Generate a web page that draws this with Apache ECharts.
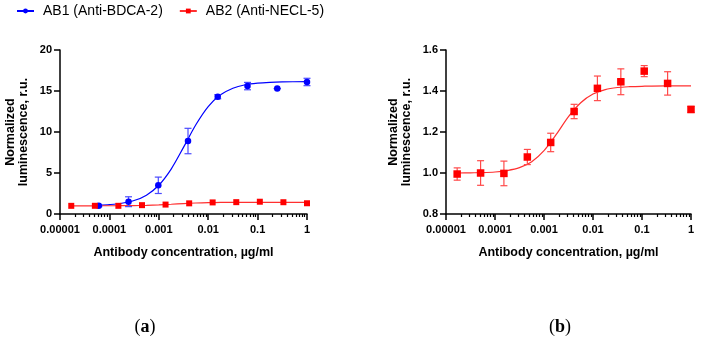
<!DOCTYPE html>
<html>
<head>
<meta charset="utf-8">
<script src="https://cdn.jsdelivr.net/npm/echarts@6/dist/echarts.min.js"></script>
<style>html,body{margin:0;padding:0;background:#fff}#c{width:701px;height:341px}</style>
</head>
<body>
<div id="c"></div>
<script>
// ---- data ----
const nameAB1 = 'AB1 (Anti-BDCA-2)';
const nameAB2 = 'AB2 (Anti-NECL-5)';
// AB1: 4-fold dilutions (µg/ml)
const ab1Conc = [0.000061, 0.000244, 0.000977, 0.0039, 0.0156, 0.0625, 0.25, 1];
const ab1Mean = [1.0, 1.5, 3.5, 8.9, 14.3, 15.6, 15.3, 16.1];
const ab1Err  = [0.1, 0.6, 1.0, 1.55, 0.25, 0.45, 0, 0.45];
// AB2: 3-fold dilutions (µg/ml)
const ab2Conc = [0.0000169, 0.0000508, 0.000152, 0.000457, 0.00137, 0.00412, 0.0123, 0.037, 0.111, 0.333, 1];
const ab2Mean = [0.995, 1.0, 0.998, 1.078, 1.149, 1.30, 1.413, 1.445, 1.497, 1.437, 1.31];
const ab2Err  = [0.03, 0.06, 0.06, 0.037, 0.045, 0.035, 0.06, 0.063, 0.027, 0.057, 0.015];
// fitted curves
const ab1FitX = [0.000061, 0.0001, 0.000178, 0.000316, 0.000562, 0.001, 0.00178, 0.00316, 0.00562, 0.01, 0.0178, 0.0316, 0.0562, 0.1, 0.178, 0.316, 1];
const ab1FitY = [1.07, 1.15, 1.31, 1.64, 2.30, 3.51, 5.48, 8.12, 10.88, 13.1, 14.53, 15.34, 15.76, 15.96, 16.06, 16.11, 16.15];
const ab2FitX = [0.0000169, 0.0000316, 0.0000562, 0.0001, 0.000178, 0.000316, 0.000562, 0.001, 0.00178, 0.00316, 0.00562, 0.01, 0.0178, 0.0316, 0.0562, 0.1, 0.316, 1];
const ab2FitY = [1.000, 1.001, 1.002, 1.005, 1.012, 1.026, 1.055, 1.109, 1.188, 1.275, 1.343, 1.385, 1.407, 1.417, 1.421, 1.423, 1.425, 1.425];
// axis ticks
const xMajor = [0.00001, 0.0001, 0.001, 0.01, 0.1, 1];
const leftYTicks = [0, 5, 10, 15, 20];
const rightYTicks = [0.8, 1.0, 1.2, 1.4, 1.6];

// ---- helpers ----
const xMinor = [];
for (let i = 0; i < xMajor.length - 1; i++) {
  for (let k = 2; k <= 9; k++) xMinor.push(+(xMajor[i] * k).toPrecision(3));
}
const FONT = '"Liberation Sans", Arial, sans-serif';
const BLUE = '#0000ff', RED = '#ff0000';
const pairs = (xs, ys) => xs.map((x, i) => [x, ys[i]]);
const errData = (xs, m, e) => xs.map((x, i) => [x, m[i] - e[i], m[i] + e[i]]);

function xAxes(gi) {
  return [{
    type: 'log', logBase: 10, gridIndex: gi, min: 0.00001, max: 1, position: 'bottom',
    axisLine: { show: true, onZero: false, lineStyle: { color: '#000', width: 1.5 } },
    axisTick: { show: true, customValues: xMajor, length: 6, lineStyle: { color: '#000', width: 1.5 } },
    axisLabel: { customValues: xMajor, margin: 10, color: '#000', fontFamily: FONT, fontWeight: 'bold', fontSize: 11,
      formatter: v => String(+(+v).toPrecision(1)) },
    splitLine: { show: false },
    name: 'Antibody concentration, µg/ml', nameLocation: 'middle', nameGap: 32,
    nameTextStyle: { color: '#000', fontFamily: FONT, fontWeight: 'bold', fontSize: 12.5 }
  }, {
    type: 'log', logBase: 10, gridIndex: gi, min: 0.00001, max: 1, position: 'bottom',
    axisLine: { show: false },
    axisTick: { show: true, customValues: xMinor, length: 3, lineStyle: { color: '#000', width: 1.2 } },
    axisLabel: { show: false },
    splitLine: { show: false }
  }];
}
function yAxis(gi, min, max, interval, fmt, gap) {
  return {
    type: 'value', gridIndex: gi, min, max, interval,
    axisLine: { show: true, lineStyle: { color: '#000', width: 1.5 } },
    axisTick: { show: true, length: 6, lineStyle: { color: '#000', width: 1.5 } },
    axisLabel: { margin: 8, color: '#000', fontFamily: FONT, fontWeight: 'bold', fontSize: 11, formatter: fmt },
    splitLine: { show: false },
    name: 'Normalized\nluminescence, r.u.', nameLocation: 'middle', nameGap: gap, nameRotate: 90,
    nameTextStyle: { color: '#000', fontFamily: FONT, fontWeight: 'bold', fontSize: 12.5, lineHeight: 13 }
  };
}
function errSeries(name, xi, yi, data, color) {
  return {
    type: 'custom', name, xAxisIndex: xi, yAxisIndex: yi, data, z: 2,
    encode: { x: 0, y: [1, 2] },
    renderItem(params, api) {
      const x = api.value(0);
      const p1 = api.coord([x, api.value(1)]);
      const p2 = api.coord([x, api.value(2)]);
      const w = 3.5;
      const st = { stroke: color, lineWidth: 1.2 };
      return { type: 'group', children: [
        { type: 'line', shape: { x1: p1[0], y1: p1[1], x2: p2[0], y2: p2[1] }, style: st },
        { type: 'line', shape: { x1: p1[0] - w, y1: p1[1], x2: p1[0] + w, y2: p1[1] }, style: st },
        { type: 'line', shape: { x1: p2[0] - w, y1: p2[1], x2: p2[0] + w, y2: p2[1] }, style: st }
      ] };
    }
  };
}

const chart = echarts.init(document.getElementById('c'), null, { renderer: 'canvas' });
chart.setOption({
  animation: false,
  backgroundColor: '#fff',
  legend: {
    data: [nameAB1, nameAB2], left: 11, top: -1, itemWidth: 17, itemHeight: 6, itemGap: 16,
    textStyle: { fontFamily: FONT, fontSize: 14, color: '#000', padding: [0, 0, 0, 4] }
  },
  grid: [
    { left: 60, right: 394, top: 50, bottom: 127 },
    { left: 446, right: 10, top: 50, bottom: 127 }
  ],
  xAxis: [...xAxes(0), ...xAxes(1)],
  yAxis: [
    yAxis(0, 0, 20, 5, v => String(v), 30),
    yAxis(1, 0.8, 1.6, 0.2, v => (+v).toFixed(1), 33)
  ],
  graphic: [
    { type: 'text', x: 145, y: 327, style: { text: '{n|(}{b|a}{n|)}', align: 'center', verticalAlign: 'middle',
      rich: { n: { fontFamily: '"Liberation Serif", serif', fontSize: 18, fill: '#000' }, b: { fontFamily: '"Liberation Serif", serif', fontSize: 18, fontWeight: 'bold', fill: '#000' } } } },
    { type: 'text', x: 560, y: 327, style: { text: '{n|(}{b|b}{n|)}', align: 'center', verticalAlign: 'middle',
      rich: { n: { fontFamily: '"Liberation Serif", serif', fontSize: 18, fill: '#000' }, b: { fontFamily: '"Liberation Serif", serif', fontSize: 18, fontWeight: 'bold', fill: '#000' } } } }
  ],
  series: [
    { type: 'line', name: nameAB1, xAxisIndex: 0, yAxisIndex: 0, data: pairs(ab1FitX, ab1FitY), smooth: 0.3,
      showSymbol: false, symbol: 'circle', color: BLUE, lineStyle: { color: BLUE, width: 1.2 }, z: 1 },
    { type: 'line', name: nameAB2, xAxisIndex: 0, yAxisIndex: 0, data: pairs(ab2FitX, ab2FitY), smooth: 0.3,
      showSymbol: false, symbol: 'rect', color: RED, lineStyle: { color: '#ff3030', width: 1.2 }, z: 1 },
    errSeries(nameAB1, 0, 0, errData(ab1Conc, ab1Mean, ab1Err), '#4a4aff'),
    { type: 'scatter', name: nameAB1, xAxisIndex: 0, yAxisIndex: 0, data: pairs(ab1Conc, ab1Mean),
      symbol: 'circle', symbolSize: 6.5, itemStyle: { color: BLUE, opacity: 1 }, z: 3 },
    { type: 'scatter', name: nameAB2, xAxisIndex: 0, yAxisIndex: 0, data: pairs(ab2Conc, ab2Mean),
      symbol: 'rect', symbolSize: 6, itemStyle: { color: RED, opacity: 1 }, z: 3 },
    // right panel
    { type: 'line', name: nameAB2, xAxisIndex: 2, yAxisIndex: 1, data: pairs(ab2FitX, ab2FitY), smooth: 0.3,
      showSymbol: false, symbol: 'rect', color: RED, lineStyle: { color: '#ff3030', width: 1.2 }, z: 1 },
    errSeries(nameAB2, 2, 1, errData(ab2Conc, ab2Mean, ab2Err), '#ff4a4a'),
    { type: 'scatter', name: nameAB2, xAxisIndex: 2, yAxisIndex: 1, data: pairs(ab2Conc, ab2Mean),
      symbol: 'rect', symbolSize: 7.5, itemStyle: { color: RED, opacity: 1 }, z: 3, clip: false }
  ]
});
</script>
</body>
</html>
